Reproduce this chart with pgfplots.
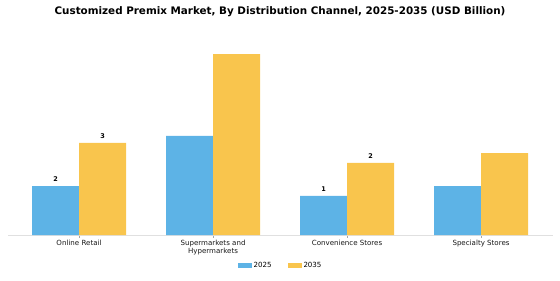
\documentclass[border=0pt]{standalone}
\usepackage{pgfplots}
\pgfplotsset{compat=1.18}
\usepackage{fontspec}
\setmainfont{DejaVu Sans}
\definecolor{cblue}{HTML}{5DB3E6}
\definecolor{cyellow}{HTML}{F9C54D}
\begin{document}
\begin{tikzpicture}[x=1bp,y=1bp]
\path[use as bounding box] (0,0) rectangle (560,280);
\node[font=\fontsize{10.4}{12}\selectfont\bfseries] at (280,268) {Customized Premix Market, By Distribution Channel, 2025-2035 (USD Billion)};
\begin{axis}[
  at={(8bp,45bp)}, anchor=south west,
  scale only axis, width=545bp, height=190bp,
  xmin=-0.53, xmax=3.537, ymin=0, ymax=6.33,
  axis x line*=bottom, axis y line=none,
  x axis line style={draw=black!12, line width=0.8pt, -},
  xtick={0,1,2,3},
  xticklabels={Online Retail,{Supermarkets and\\Hypermarkets},Convenience Stores,Specialty Stores},
  xticklabel style={align=center, font=\fontsize{7.1}{7.8}\selectfont, text=black!90, yshift=1bp},
  tick align=outside, xtick pos=bottom,
  major tick length=2.5bp,
  tick style={draw=black!35, line width=0.5pt},
  ybar, bar width=47bp,
  nodes near coords,
  point meta=explicit symbolic,
  every node near coord/.append style={font=\fontsize{6.5}{7}\selectfont\bfseries, yshift=1bp},
  legend style={at={(0.5,-0.12)}, anchor=north, draw=none, legend columns=2,
    font=\fontsize{7.1}{8}\selectfont, /tikz/every even column/.append style={column sep=14bp}},
  legend image code/.code={\fill[#1] (0bp,-2.2bp) rectangle (14bp,2.8bp);},
]
\addplot[fill=cblue, draw=none, bar shift=-23.5bp] coordinates {(0,1.63) [2] (1,3.3) [] (2,1.3) [1] (3,1.63) []};
\addplot[fill=cyellow, draw=none, bar shift=23.5bp] coordinates {(0,3.07) [3] (1,6.03) [] (2,2.4) [2] (3,2.73) []};
\legend{2025,2035}
\end{axis}
\end{tikzpicture}
\end{document}
